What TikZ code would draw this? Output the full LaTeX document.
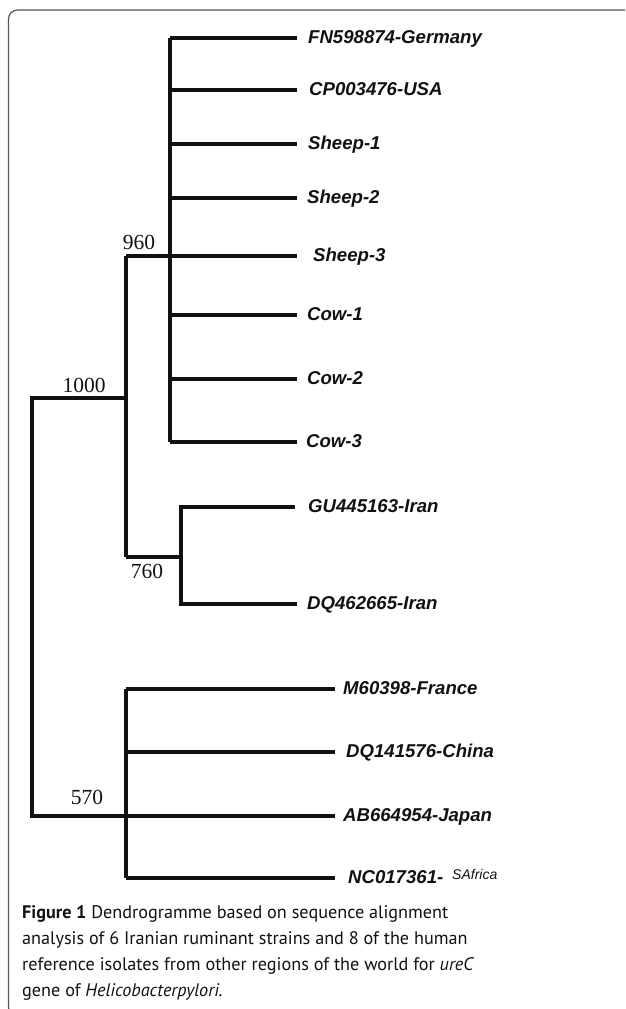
\documentclass[tikz,border=0pt]{standalone}
\usepackage{fontspec}
\setmainfont{Liberation Serif}
\setsansfont{Liberation Sans}
\newfontfamily\capfont{PT Sans}
\usepackage{xcolor}
\usetikzlibrary{calc}
\definecolor{ink}{HTML}{111111}
\definecolor{framegray}{HTML}{555555}
\tikzset{
  branch/.style={draw=ink, line width=3.2pt, line join=miter},
  leaf/.style={anchor=base west, inner sep=0pt, text=ink,
    font=\sffamily\bfseries\itshape\fontsize{18.6}{20}\selectfont},
  boot/.style={anchor=base, inner sep=0pt, text=ink,
    font=\rmfamily\fontsize{21.5}{23}\selectfont},
  caption/.style={anchor=base west, inner sep=0pt, align=left, text=ink,
    font=\capfont\fontsize{18.2}{26}\selectfont},
  frame/.style={draw=framegray, line width=1.2pt, rounded corners=9pt}
}

\begin{document}
\begin{tikzpicture}[x=1pt, y=-1pt]
  \useasboundingbox (0,0) rectangle (625,1009);
  \clip (0,0) rectangle (625,1009);
  \draw[frame] (30,1016) -- (8.5,1016) -- (8.5,10) -- (700,10);

  % internal nodes
  \coordinate (root) at (32,398);
  \coordinate (n1000) at (126,398);
  \coordinate (n960) at (126,256);
  \coordinate (n760) at (126,557);
  \coordinate (n570) at (126,816);
  \coordinate (c960) at (170,256);
  \coordinate (c760) at (181,557);

  % leaves of the 960 clade
  \foreach \name/\y/\gap/\lab in {germany/38/11/FN598874-Germany, usa/90/12/CP003476-USA,
      sheep1/144/11/Sheep-1, sheep2/198/10/Sheep-2, sheep3/256/16/Sheep-3,
      cow1/315/10/Cow-1, cow2/379/10/Cow-2, cow3/442/9/Cow-3} {
    \coordinate (\name-tip) at (297,\y);
    \node[leaf] (\name) at ($(\name-tip)+(\gap,5)$) {\lab};
    \draw[branch] (\name-tip -| c960) -- (\name-tip);
  }
  \draw[branch] (germany-tip -| c960) -- (cow3-tip -| c960);

  % 760 clade
  \coordinate (gu-tip) at (295,507);
  \coordinate (dq-tip) at (297,604);
  \node[leaf] (gu) at ($(gu-tip)+(13,5)$) {GU445163-Iran};
  \node[leaf] (dq) at ($(dq-tip)+(10,5)$) {DQ462665-Iran};
  \draw[branch] (gu-tip) -- (gu-tip -| c760) -- (dq-tip -| c760) -- (dq-tip);
  \draw[branch] (n760) -- (c760);

  % 1000 clade
  \draw[branch] (n960) -- (c960);
  \draw[branch] (n960) -- (n760);

  % 570 clade
  \foreach \name/\y/\gap/\lab in {france/689/8/M60398-France, china/752/11/DQ141576-China,
      japan/816/8/AB664954-Japan, safrica/878/13/NC017361-} {
    \coordinate (\name-tip) at (335,\y);
    \node[leaf] (\name) at ($(\name-tip)+(\gap,5)$) {\lab};
    \draw[branch] (\name-tip -| n570) -- (\name-tip);
  }
  \node[leaf, font=\sffamily\itshape\fontsize{14}{16}\selectfont] (safrica-c) at (452,879) {SAfrica};
  \draw[branch] (france-tip -| n570) -- (safrica-tip -| n570);

  % root
  \draw[branch] (n1000) -- (root) |- (n570);

  % bootstrap values
  \node[boot] (b960) at (139,249) {960};
  \node[boot] (b1000) at (84,392) {1000};
  \node[boot] (b760) at (147,578) {760};
  \node[boot] (b570) at (87,804) {570};

  % caption (base anchor sits on the last line)
  \node[caption] (cap) at (22,996) {\textbf{Figure 1} Dendrogramme based on sequence alignment\\
    analysis of 6 Iranian ruminant strains and 8 of the human\\
    reference isolates from other regions of the world for \textit{ureC}\\
    gene of \textit{Helicobacterpylori.}};
\end{tikzpicture}
\end{document}
